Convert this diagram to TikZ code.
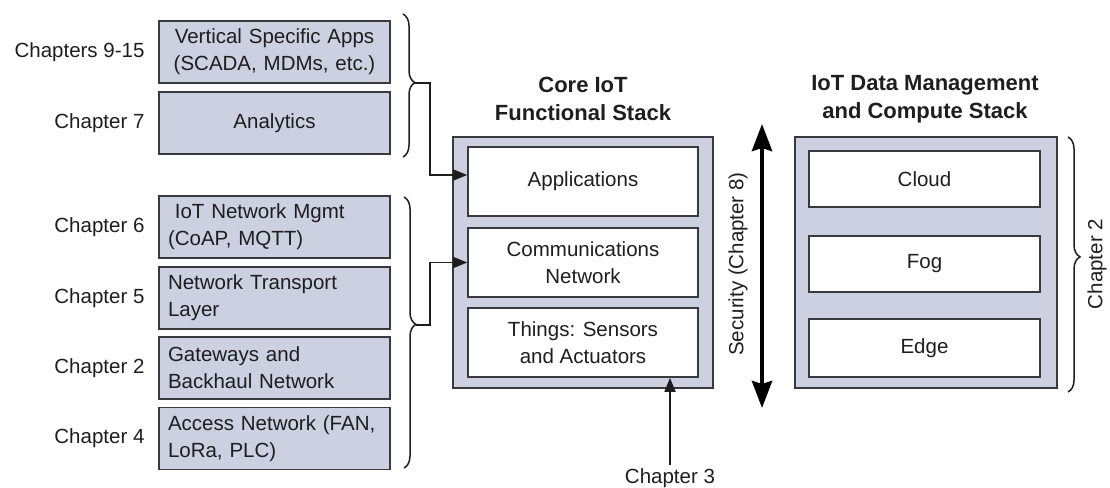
\documentclass[tikz,border=0pt]{standalone}
\usepackage{fontspec}
\setmainfont{Liberation Sans}
\usetikzlibrary{arrows.meta,decorations.pathreplacing,calc}
\definecolor{stackfill}{RGB}{204,208,224}
\definecolor{edgeline}{RGB}{58,58,62}
\definecolor{ink}{RGB}{30,30,30}
\newcommand{\txt}{\fontsize{20.5}{27}\selectfont}
\newcommand{\ttl}{\fontsize{22}{28}\selectfont\bfseries}
\tikzset{
  layerbox/.style={draw=edgeline, fill=stackfill, line width=1.6pt, minimum width=231pt,
    minimum height=62pt, inner sep=0pt, text=ink, font=\txt},
  layerleft/.style={layerbox, align=left, text width=213pt},
  layercenter/.style={layerbox, align=center, text width=225pt},
  chap/.style={anchor=east, text=ink, font=\txt},
  outerbox/.style={draw=edgeline, fill=stackfill, line width=1.6pt, inner sep=0pt},
  innerbox/.style={draw=edgeline, fill=white, line width=1.6pt, inner sep=0pt,
    text=ink, font=\txt, align=center},
  heading/.style={text=ink, font=\ttl, align=center},
  bracestyle/.style={draw=ink, line width=1.5pt,
    decorate, decoration={brace, amplitude=12pt, aspect=#1}},
  conn/.style={draw=ink, line width=1.6pt, -{Triangle[length=14pt,width=11pt]}},
}
\begin{document}
\begin{tikzpicture}[x=1pt,y=-1pt]
\useasboundingbox (0,0) rectangle (1110,487);

% left column: layers and the chapters covering them
\node[layercenter] (vsa) at (274.5,52) {Vertical Specific Apps\\(SCADA, MDMs, etc.)};
\node[layercenter] (ana) at (274.5,123) {Analytics};
\node[layerleft] (nmg) at (274.5,227) {\ IoT Network Mgmt\\(CoAP, MQTT)};
\node[layerleft] (ntl) at (274.5,298) {Network Transport\\Layer};
\node[layerleft] (gwb) at (274.5,368) {Gateways and\\Backhaul Network};
\node[layerleft] (acc) at (274.5,438.5) {Access Network (FAN,\\LoRa, PLC)};

\node[chap] (c915) at (148,52) {Chapters 9-15};
\node[chap] (c7) at (148,123) {Chapter 7};
\node[chap] (c6) at (148,227) {Chapter 6};
\node[chap] (c5) at (148,298) {Chapter 5};
\node[chap] (c2a) at (148,368) {Chapter 2};
\node[chap] (c4) at (148,438.5) {Chapter 4};

% core functional stack
\node[heading] (coret) at (583,99) {Core IoT\\Functional Stack};
\node[outerbox, minimum width=260pt, minimum height=251pt] (core) at (583,262.5) {};
\node[innerbox, minimum width=230pt, minimum height=69pt] (app) at (583,181.5) {Applications};
\node[innerbox, minimum width=230pt, minimum height=69pt] (comm) at (583,262.5) {Communications\\Network};
\node[innerbox, minimum width=230pt, minimum height=69pt] (thing) at (583,342.5) {Things: Sensors\\and Actuators};

% data management and compute stack
\node[heading] (dmt) at (925,99) {IoT Data Management\\and Compute Stack};
\node[outerbox, minimum width=262pt, minimum height=251pt] (dm) at (926,262.5) {};
\node[innerbox, minimum width=231pt, minimum height=56pt] (cloud) at (924.5,179) {Cloud};
\node[innerbox, minimum width=231pt, minimum height=56pt] (fog) at (924.5,264) {Fog};
\node[innerbox, minimum width=231pt, minimum height=58pt] (edge) at (924.5,348) {Edge};

% braces
\draw[bracestyle=0.48] (403,14) -- (403,157);
\coordinate (tipA) at (415,83);
\draw[bracestyle=0.47] (404,197) -- (404,468);
\coordinate (tipB) at (416,325);
\draw[bracestyle=0.47] (1068,137) -- (1068,392);
\node[rotate=90, text=ink, font=\txt] (c2b) at (1097,264) {Chapter 2};

% connectors from the braces into the core stack
\coordinate (jogA) at (430,83);
\coordinate (jogB) at (430,325);
\draw[conn] (tipA) -- (jogA) |- ([yshift=6.5pt]app.west);
\draw[conn] (tipB) -- (jogB) |- (comm.west);

% security spans the whole stack
\coordinate (secTop) at (762,124);
\coordinate (secBot) at (762,408);
\draw[draw=black, line width=4.5pt,
  {Stealth[length=27pt,width=20pt,inset=3pt]}-{Stealth[length=27pt,width=20pt,inset=3pt]}]
  (secTop) -- (secBot);
\node[rotate=90, text=ink, font=\txt] (sec) at (738,264) {Security (Chapter 8)};

% chapter 3 points at the things layer
\node[text=ink, font=\txt] (c3) at (670,478) {Chapter 3};
\draw[conn] (c3.north) -- (c3.north |- thing.south);
\end{tikzpicture}
\end{document}
